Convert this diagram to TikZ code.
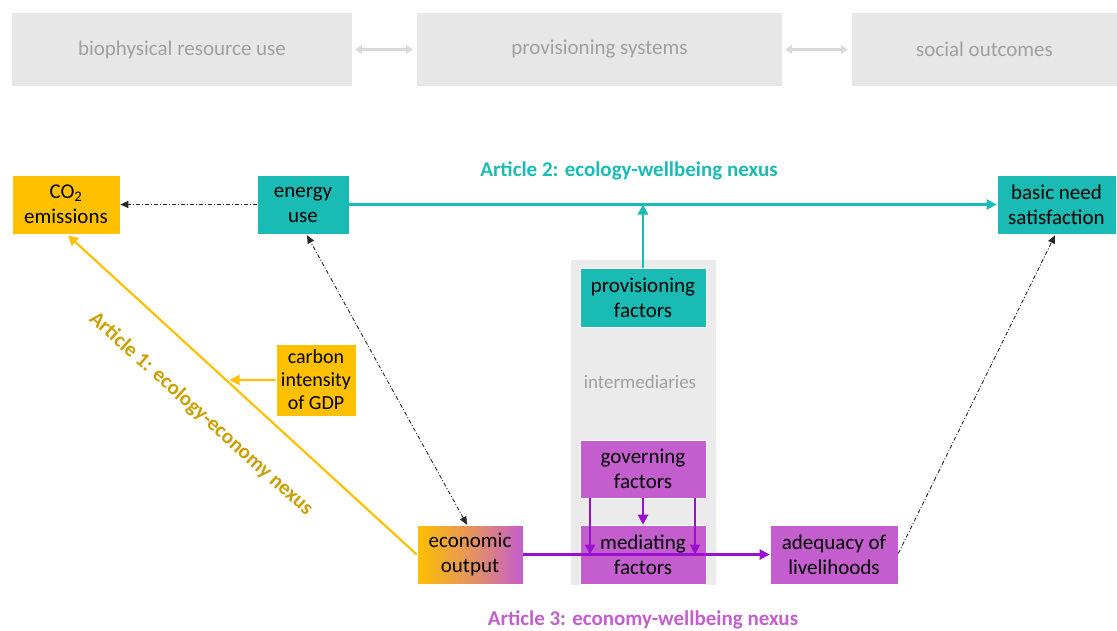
\documentclass[tikz,border=0pt]{standalone}
\usepackage{fontspec}
\setmainfont{Carlito}
\usetikzlibrary{arrows.meta,calc}
\definecolor{topgray}{HTML}{E7E7E7}
\definecolor{toptext}{HTML}{A0A0A0}
\definecolor{toparrow}{HTML}{D9D9D9}
\definecolor{interbg}{HTML}{EBEBEB}
\definecolor{yel}{HTML}{FFC000}
\definecolor{yeltext}{HTML}{CC9F00}
\definecolor{tealc}{HTML}{1ABBB4}
\definecolor{purp}{HTML}{C45ECE}
\definecolor{purpline}{HTML}{9A10D0}
\definecolor{purptext}{HTML}{C45ECE}
\tikzset{
  topbox/.style={fill=topgray, draw=none, minimum height=73pt, inner sep=0pt,
    text=toptext, font=\fontsize{21}{24}\selectfont},
  box/.style={draw=white, line width=0.6pt, minimum height=59pt, inner sep=0pt,
    align=center, font=\fontsize{21}{25}\selectfont},
  yelbox/.style={box, fill=yel},
  tealbox/.style={box, fill=tealc},
  purpbox/.style={box, fill=purp},
  dd/.style={black!85, line width=0.9pt, dash pattern=on 4pt off 2pt on 1pt off 2pt,
    -{Triangle[length=8pt,width=7pt]}},
  ddboth/.style={dd, {Triangle[length=8pt,width=7pt]}-{Triangle[length=8pt,width=7pt]}},
  tealarr/.style={tealc, line width=2.2pt, -{Triangle[length=10pt,width=10pt]}},
  yelarr/.style={yel, line width=2.2pt, -{Triangle[length=10pt,width=10pt]}},
  purparr/.style={purpline, line width=2.2pt, -{Triangle[length=10pt,width=10pt]}},
  grayarr/.style={toparrow, line width=2.4pt, {Triangle[length=7pt,width=9pt]}-{Triangle[length=7pt,width=9pt]}},
  label/.style={font=\fontsize{21}{24}\selectfont\bfseries}
}
\begin{document}
\begin{tikzpicture}[x=1pt,y=-1pt]
\useasboundingbox (0,0) rectangle (1117,630);

% top row: system components
\node[topbox, minimum width=340pt] (bio) at (182,49.5) {biophysical resource use};
\node[topbox, minimum width=365pt] (provsys) at (599.5,49.5) {provisioning systems};
\node[topbox, minimum width=265pt] (social) at (984.5,49.5) {social outcomes};
\draw[grayarr, shorten <=3pt, shorten >=4pt] (bio.east) -- (provsys.west);
\draw[grayarr, shorten <=3pt, shorten >=4pt] (provsys.east) -- (social.west);

% intermediaries panel
\fill[interbg] (571,260) rectangle (716,585);
\node[text=toptext, font=\fontsize{19}{21}\selectfont] (inter) at (640,382) {intermediaries};

% main nodes
\node[yelbox, minimum width=108pt] (co2) at (66,204.5) {CO\textsubscript{2}\\emissions};
\node[tealbox, minimum width=92pt] (energy) at (303,204.5) {energy\\use};
\node[tealbox, minimum width=119pt] (basic) at (1056.5,204.5) {basic need\\satisfaction};
\node[tealbox, minimum width=126pt] (prov) at (643,297.5) {provisioning\\factors};
\node[purpbox, minimum width=126pt, minimum height=58pt] (govern) at (643,469) {governing\\factors};
\node[purpbox, minimum width=126pt] (mediat) at (643,554.5) {mediating\\factors};
\node[box, minimum width=106pt, left color=yel, right color=purp, middle color=purp!45!yel] (econ) at (470,554.5) {economic\\output};
\node[purpbox, minimum width=128pt] (adeq) at (834,554.5) {adequacy of\\livelihoods};
\node[yelbox, minimum width=80pt, minimum height=72pt, font=\fontsize{20}{23}\selectfont] (carbon) at (316,380) {carbon\\intensity\\of GDP};

% Article 2: ecology-wellbeing nexus
\draw[tealarr] (energy.east) -- (basic.west);
\draw[tealarr] (prov.north) -- (prov.north |- energy.east);
\node[label, text=tealc] (art2) at (629,171) {Article 2: ecology-wellbeing nexus};

% Article 1: ecology-economy nexus
\draw[yelarr] (econ.west) -- ([xshift=2pt,yshift=-1pt]co2.south);
\coordinate (cross) at (intersection of econ.west--co2.south and carbon.west--carbon.east);
\draw[yelarr, shorten >=4pt] (carbon.west) -- (cross);
\node[label, text=yeltext, rotate=-41.9] (art1) at (201,414) {Article 1: ecology-economy nexus};

% Article 3: economy-wellbeing nexus
\draw[purparr] (econ.east) -- (adeq.west);
\draw[purparr] ([xshift=-53pt]govern.south) -- ([xshift=-53pt]govern.south |- econ.east);
\draw[purparr] ([xshift=52pt]govern.south) -- ([xshift=52pt]govern.south |- econ.east);
\draw[purparr] (govern.south) -- (mediat.north);
\node[label, text=purptext] (art3) at (643,620) {Article 3: economy-wellbeing nexus};

% dash-dotted links
\draw[dd] (energy.west) -- (co2.east);
\draw[ddboth] ([xshift=-3pt]econ.north) -- ([xshift=4pt,yshift=-1pt]energy.south);
\draw[dd] ([yshift=1pt]adeq.east) -- ([xshift=-1.5pt,yshift=-1pt]basic.south);
\end{tikzpicture}
\end{document}
